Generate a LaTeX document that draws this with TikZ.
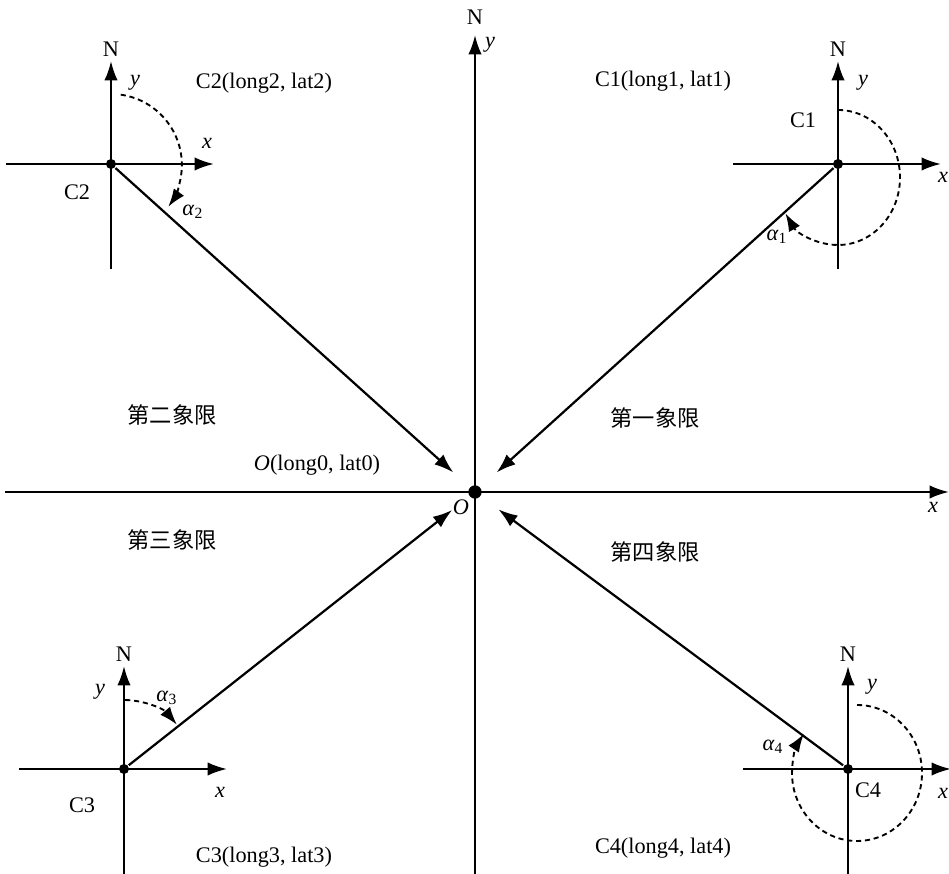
\documentclass[tikz,border=0pt]{standalone}
\usepackage{fontspec}
\setmainfont{Liberation Serif}
\newfontfamily\cjk{Noto Sans CJK SC}
\usetikzlibrary{arrows.meta}

\begin{document}
\begin{tikzpicture}[x=1.5cm,y=1.5cm,font=\fontsize{9.5}{11}\selectfont,line width=0.95pt,
	axis/.style={-{Latex[length=2.9mm,width=2mm]}},
	swing/.style={dash pattern=on 2.2pt off 1.6pt,line width=0.8pt,-{Latex[length=2.7mm,width=1.9mm]}},
	dot/.style={circle,fill=black,inner sep=0pt,minimum size=1.5mm},
	bigdot/.style={dot,minimum size=2mm}]
		\useasboundingbox (0,0) rectangle (9.49,8.74);
		%\draw[gray!50, thin, step=0.5] (0,0) grid (9.49,8.74);
		\draw[axis] (0.05,3.82) -- (9.49,3.82);
		\draw[axis] (4.75,0) -- (4.75,8.39);
		\node[bigdot] (o) at (4.75,3.82) {};
		\node (nl) at (4.75,8.57) {N};
		\node (yl) at (4.90,8.29) {\textit{y}};
		\node (xl) at (9.33,3.67) {\textit{x}};
		\node (ol) at (4.61,3.67) {\textit{O}};
		\node (p0) at (3.17,4.09) {\textit{O}(long0, lat0)};
		\foreach \n/\cx/\cy in {1/8.38/7.10, 2/1.11/7.10, 3/1.24/1.05, 4/8.48/1.05} {
			\draw[axis] (\cx-1.05,\cy) -- (\cx+1.03,\cy);
			\draw[axis] (\cx,\cy-1.05) -- (\cx,\cy+1.03) node[above,inner sep=1.5pt] (n\n) {N};
			\node[dot] (c\n) at (\cx,\cy) {};
			\draw[axis,shorten >=0.32cm] (c\n) -- (o);
		}
		\draw[swing] ([shift={(0,0.54)}]c1.center) arc[start angle=90,end angle=-148,x radius=0.62,y radius=0.675];
		\draw[swing] ([shift={(82:0.70)}]c2.center) arc[start angle=82,end angle=-36,radius=0.71];
		\draw[swing] ([shift={(89:0.69)}]c3.center) arc[start angle=89,end angle=40,radius=0.69];
		\draw[swing] ([shift={(0.09,0.64)}]c4.center) arc[start angle=90,end angle=-215,x radius=0.65,y radius=0.68];
		% labels of the four points
		\node (y1) at (8.63,7.91) {\textit{y}};
		\node (x1) at (9.43,6.97) {\textit{x}};
		\node (k1) at (8.03,7.54) {C1};
		\node (a1) at (7.77,6.37) {\textit{α}\textsubscript{1}};
		\node (y2) at (1.35,7.91) {\textit{y}};
		\node (x2) at (2.07,7.31) {\textit{x}};
		\node (k2) at (0.77,6.82) {C2};
		\node (a2) at (1.93,6.62) {\textit{α}\textsubscript{2}};
		\node (y3) at (1.00,1.82) {\textit{y}};
		\node (x3) at (2.20,0.82) {\textit{x}};
		\node (k3) at (0.82,0.69) {C3};
		\node (a3) at (1.67,1.76) {\textit{α}\textsubscript{3}};
		\node (y4) at (8.72,1.87) {\textit{y}};
		\node (x4) at (9.43,0.81) {\textit{x}};
		\node (k4) at (8.68,0.84) {C4};
		\node (a4) at (7.73,1.27) {\textit{α}\textsubscript{4}};
		\node (p1) at (6.63,7.93) {C1(long1, lat1)};
		\node (p2) at (2.64,7.91) {C2(long2, lat2)};
		\node (p3) at (2.64,0.17) {C3(long3, lat3)};
		\node (p4) at (6.63,0.26) {C4(long4, lat4)};
		\node (q1) at (6.55,4.56) {\cjk 第一象限};
		\node (q2) at (1.72,4.59) {\cjk 第二象限};
		\node (q3) at (1.72,3.34) {\cjk 第三象限};
		\node (q4) at (6.55,3.22) {\cjk 第四象限};
\end{tikzpicture}
\end{document}
